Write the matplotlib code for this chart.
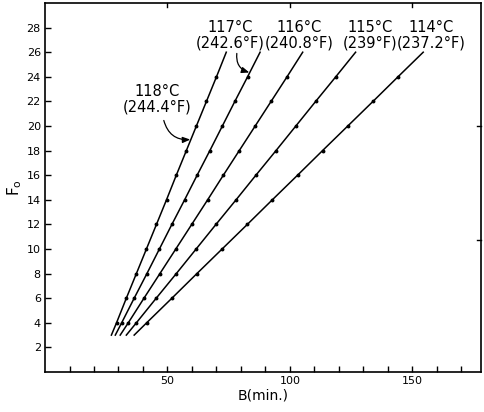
import matplotlib
matplotlib.use("Agg")
import matplotlib.pyplot as plt

plt.rcParams['font.family'] = ['Liberation Sans Narrow', 'DejaVu Sans']

# F0 values along each line (start, even-value markers, end)
F_values = [3, 4, 6, 8, 10, 12, 14, 16, 18, 20, 22, 24, 26]

# B (min.) for each retort temperature
B_118 = [27.1, 29.2, 33.2, 37.3, 41.4, 45.5, 49.6, 53.6, 57.7, 61.8, 65.9, 70.0, 74.0]
B_117 = [28.7, 31.3, 36.4, 41.6, 46.7, 51.8, 57.0, 62.1, 67.3, 72.4, 77.5, 82.7, 87.8]
B_116 = [30.7, 34.0, 40.4, 46.9, 53.4, 59.9, 66.4, 72.8, 79.3, 85.8, 92.3, 98.8, 105.2]
B_115 = [33.2, 37.3, 45.4, 53.6, 61.7, 69.8, 78.0, 86.1, 94.3, 102.4, 110.5, 118.7, 126.8]
B_114 = [36.4, 41.5, 51.8, 62.0, 72.3, 82.6, 92.8, 103.1, 113.3, 123.6, 133.9, 144.1, 154.4]

series = [B_118, B_117, B_116, B_115, B_114]

labels = ["118°C\n(244.4°F)", "117°C\n(242.6°F)", "116°C\n(240.8°F)",
          "115°C\n(239°F)", "114°C\n(237.2°F)"]

y_ticks = [2, 4, 6, 8, 10, 12, 14, 16, 18, 20, 22, 24, 26, 28]
x_minor = [10, 20, 30, 40, 60, 70, 80, 90, 110, 120, 130, 140, 160, 170]
x_major = [50, 100, 150]

fig = plt.figure(figsize=(4.85, 4.12), dpi=100)
ax = fig.add_axes([0.0928, 0.0971, 0.8990, 0.8956])

for B in series:
    ax.plot(B, F_values, color='black', lw=1.1, marker='o', ms=1.8,
            markevery=slice(1, -1))

ax.set_xlim(0, 178)
ax.set_ylim(0, 30)

ax.set_yticks(y_ticks)
ax.set_xticks(x_major)
ax.set_xticks(x_minor, minor=True)
ax.tick_params(axis='both', which='both', direction='in', length=4,
               width=1.0, labelsize=8, pad=3)
ax.tick_params(axis='x', which='both', top=False)
for s in ax.spines.values():
    s.set_linewidth(1.2)

# inward ticks on the top and right frame
for xv in x_major:
    ax.plot([xv, xv], [30, 29.65], color='black', lw=1.0, clip_on=False)
for yv in [10.7, 20]:
    ax.plot([178, 176.4], [yv, yv], color='black', lw=1.0, clip_on=False)

ax.set_xlabel("B(min.)", fontsize=10, labelpad=2)
ax.set_ylabel(r"F$_\mathregular{o}$", fontsize=11, labelpad=2)

# temperature labels
label_pos = [(45.9, 22.2), (75.4, 27.4), (103.6, 27.4), (132.6, 27.4), (157.5, 27.4)]
for text, (bx, fy) in zip(labels, label_pos):
    ax.text(bx, fy, text, ha='center', va='center', fontsize=10.5,
            linespacing=1.05)

arrow_kw = dict(arrowstyle='-|>,head_length=0.45,head_width=0.18',
                color='black', lw=0.9, shrinkA=0, shrinkB=0)
ax.annotate("", xy=(59.3, 18.9), xytext=(48.5, 20.45),
            arrowprops=dict(connectionstyle='arc3,rad=0.4', **arrow_kw))
ax.annotate("", xy=(83.4, 24.35), xytext=(78.3, 25.9),
            arrowprops=dict(connectionstyle='arc3,rad=0.4', **arrow_kw))

fig.savefig("out.png", dpi=100)
